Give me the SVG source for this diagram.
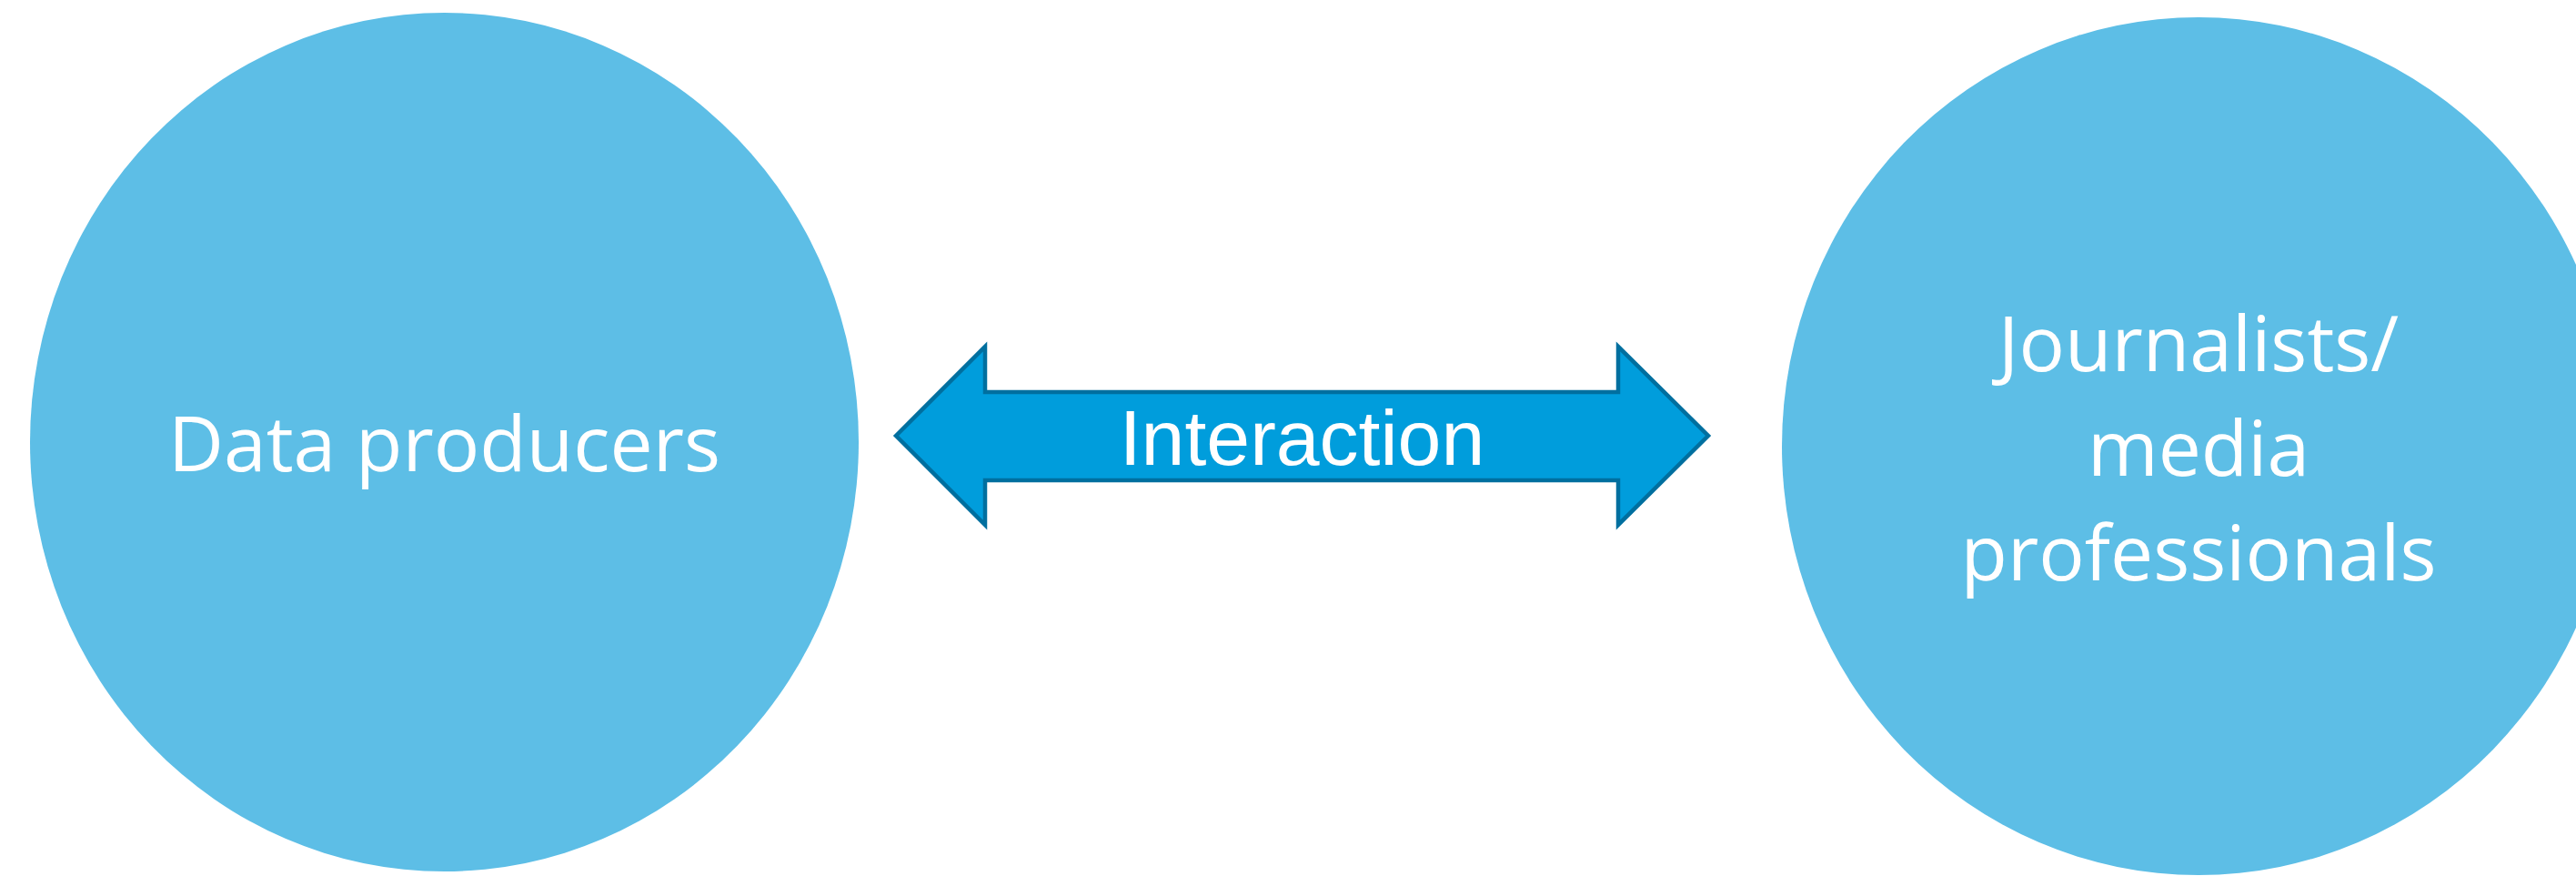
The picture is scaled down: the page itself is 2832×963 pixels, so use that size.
<svg xmlns="http://www.w3.org/2000/svg" width="2832" height="963" viewBox="0 0 2832 963">
  <style>
    .node { fill: #5DBEE6; }
    .nodeText { font-family: "Open Sans", "Liberation Sans", sans-serif; font-size: 84px; fill: #FFFFFF; text-anchor: middle; }
    .arrow { fill: #009DDC; stroke: #006F9F; stroke-width: 4.5; stroke-linejoin: miter; }
    .arrowText { font-family: "Liberation Sans", Arial, sans-serif; font-size: 86px; fill: #FFFFFF; text-anchor: middle; }
  </style>
  <rect width="2832" height="963" fill="#FFFFFF"/>
  <g id="connectors">
    <g id="interaction">
      <polygon class="arrow" points="985,479 1083,381 1083,431 1779,431 1779,381 1878,479 1779,577 1779,528 1083,528 1083,577"/>
      <text class="arrowText" x="1431.5" y="511">Interaction</text>
    </g>
  </g>
  <g id="data-producers">
    <ellipse class="node" cx="488.5" cy="486" rx="455.5" ry="472"/>
    <text class="nodeText" x="488.5" y="518">Data producers</text>
  </g>
  <g id="journalists">
    <ellipse class="node" cx="2417" cy="490.5" rx="458" ry="471.5"/>
    <text class="nodeText" x="2417" y="408">Journalists/</text>
    <text class="nodeText" x="2417" y="523">media</text>
    <text class="nodeText" x="2417" y="638">professionals</text>
  </g>
</svg>
